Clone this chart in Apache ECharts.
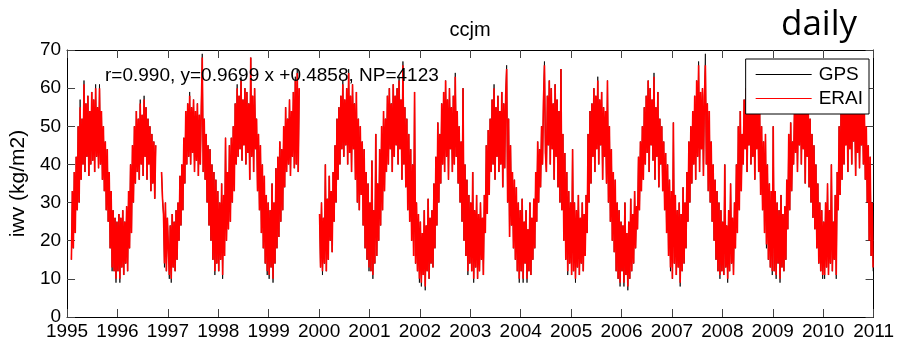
<!DOCTYPE html>
<html>
<head>
<meta charset="utf-8">
<script src="https://cdn.jsdelivr.net/npm/echarts@6/dist/echarts.min.js"></script>
<style>
html,body{margin:0;padding:0;background:#fff;}
#chart{width:897px;height:341px;}
</style>
</head>
<body>
<div id="chart"></div>
<script>
// Weekly samples (52 per year) read from the daily plot envelope; null = no data
const years = [1995,1996,1997,1998,1999,2000,2001,2002,2003,2004,2005,2006,2007,2008,2009,2010];
const weeksPerYear = 52;
const yTicks = [0,10,20,30,40,50,60,70];
const xTicks = [1995,1996,1997,1998,1999,2000,2001,2002,2003,2004,2005,2006,2007,2008,2009,2010,2011];

const statR = '0.990', statSlope = '0.9699', statIntercept = '0.4858', statNP = 4123;

const erai1995 = [null,null,null,null,15,33,18,38,22,42,28,50,30,55,36,52,40,61,38,56,42,58,37,54,40,59,41,57,38,60,42,55,39,60,40,54,36,50,33,46,28,44,25,38,18,33,13,28,12,26,10,25];
const erai1996 = [12,27,10,26,13,28,11,25,14,29,12,33,18,40,22,45,30,50,35,54,38,52,36,56,40,53,37,57,42,55,36,52,40,50,33,48,35,46,31,45,null,null,null,null,null,38,31,27,14,30,12,26];
const erai1997 = [26,11,24,10,27,13,25,12,28,15,30,20,37,24,40,28,47,35,54,40,56,42,58,40,55,43,57,38,54,41,56,37,53,40,55,68,38,52,36,48,30,45,24,44,20,40,15,38,12,36,14,33];
const erai1998 = [12,30,15,35,11,32,16,47,20,38,23,45,25,47,30,50,33,56,40,60,42,58,44,62,41,57,45,60,40,59,43,56,36,68,42,58,38,60,44,52,33,48,28,45,22,40,18,37,14,32,12,30];
const erai1999 = [11,28,13,35,10,30,14,39,18,42,21,46,25,44,28,50,34,55,38,52,40,57,37,54,42,59,39,62,40,64,38,60,null,null,null,null,null,null,null,null,null,null,null,null,null,null,null,null,null,null,null,null];
const erai2000 = [27,13,30,12,26,14,40,12,31,15,37,20,33,17,38,25,45,30,52,36,55,40,58,44,61,42,57,45,60,40,64,43,58,38,61,44,56,36,59,30,52,28,50,32,46,24,44,18,38,15,35,13];
const erai2001 = [30,12,41,11,28,14,48,16,35,20,44,24,50,28,54,33,52,38,58,40,60,44,56,38,61,42,58,45,60,40,62,44,57,36,66,40,55,34,52,28,48,25,44,20,40,16,59,14,30,12,27,10];
const erai2002 = [25,9,22,11,28,8,24,12,31,10,26,14,28,13,35,18,42,24,51,30,48,35,56,40,59,38,62,42,57,36,60,44,55,38,58,40,63,42,54,35,50,30,46,25,60,20,40,16,36,12,32,14];
const erai2003 = [30,12,38,10,28,13,32,10,27,12,30,15,26,11,32,22,45,27,49,32,52,38,57,40,60,36,55,42,58,38,54,40,59,34,56,39,58,65,30,52,21,45,24,38,18,36,15,34,12,30,10,28];
const erai2004 = [12,31,10,25,14,28,10,23,12,30,11,26,15,31,18,38,25,46,30,44,34,50,40,57,66,43,38,58,45,62,40,60,44,56,36,61,42,57,34,54,30,65,28,48,20,43,15,38,12,33,14,30];
const erai2005 = [11,44,12,30,10,28,13,32,11,26,14,30,12,27,16,32,22,48,30,54,35,56,42,60,38,58,44,62,40,57,45,59,36,55,42,54,35,62,30,50,25,44,20,38,17,36,12,30,10,28,9,25];
const erai2006 = [12,24,9,30,11,22,8,25,10,31,12,27,14,33,18,29,23,42,28,46,33,50,36,55,40,58,43,62,38,60,45,57,41,63,36,55,42,59,34,52,40,50,33,46,28,43,22,40,16,36,13,33];
const erai2007 = [10,51,14,32,11,28,13,30,9,27,12,34,14,30,18,38,25,46,30,50,35,54,40,58,36,62,42,66,38,59,44,60,37,58,66,40,56,33,54,30,46,25,40,20,36,15,33,12,30,11,28,12];
const erai2008 = [25,11,40,13,24,10,28,12,35,14,26,11,30,18,40,22,50,28,54,33,48,40,57,44,60,38,56,45,62,40,58,42,60,36,55,44,59,38,54,32,50,28,46,22,48,19,40,15,35,13,33,12];
const erai2009 = [50,12,33,11,30,14,28,10,32,13,27,12,29,15,36,23,48,28,51,33,46,40,56,43,60,38,58,45,62,40,57,44,60,35,56,42,58,34,52,30,48,26,45,23,40,18,35,14,30,12,28,11];
const erai2010 = [25,11,30,13,35,11,28,14,40,12,25,15,32,11,38,28,50,32,54,36,58,40,55,45,60,38,62,44,57,40,61,46,56,37,60,43,58,39,55,45,57,40,54,36,50,30,45,20,42,16,30,13];

const gps1995 = [null,null,null,null,15,33,18,38,22,42,28,50,30,57,36,52,40,62,38,56,42,58,37,54,40,59,41,57,38,61,42,55,39,61,40,54,36,50,33,46,28,44,25,38,18,33,12,28,12,26,9,25];
const gps1996 = [12,27,9,26,13,28,11,25,14,29,12,33,18,40,22,45,30,50,35,54,38,52,36,57,40,53,37,58,42,55,36,52,40,50,33,48,35,46,31,45,null,null,null,null,null,38,31,27,13,30,12,26];
const gps1997 = [26,10,24,9,27,13,25,12,28,15,30,20,37,24,40,28,47,35,54,40,56,42,59,40,55,43,57,38,54,41,56,37,53,40,55,69,38,52,36,48,30,45,24,44,20,40,15,38,11,36,14,33];
const gps1998 = [12,30,15,35,10,32,16,47,20,38,23,45,25,47,30,50,33,56,40,61,42,58,44,63,41,57,45,60,40,59,43,56,36,68,42,58,38,60,44,52,33,48,28,45,22,40,18,37,14,32,11,30];
const gps1999 = [10,28,13,35,9,30,14,39,18,42,21,46,25,44,28,50,34,55,38,52,40,57,37,54,42,59,39,63,40,65,38,60,null,null,null,null,null,null,null,null,null,null,null,null,null,null,null,null,null,null,null,null];
const gps2000 = [27,13,30,11,26,14,40,12,31,15,37,20,33,17,38,25,45,30,52,36,55,40,58,44,62,42,57,45,60,40,65,43,58,38,61,44,56,36,59,30,52,28,50,32,46,24,44,18,38,15,35,12];
const gps2001 = [30,12,41,10,28,14,48,16,35,20,44,24,50,28,54,33,52,38,58,40,60,44,56,38,61,42,58,45,60,40,63,44,57,36,67,40,55,34,52,28,48,25,44,20,40,16,59,14,30,12,27,9];
const gps2002 = [25,8,22,11,28,7,24,12,31,10,26,14,28,13,35,18,42,24,51,30,48,35,56,40,59,38,62,42,57,36,60,44,55,38,58,40,64,42,54,35,50,30,46,25,60,20,40,16,36,11,32,14];
const gps2003 = [30,12,38,9,28,13,32,10,27,12,30,15,26,11,32,22,45,27,49,32,52,38,57,40,61,36,55,42,58,38,54,40,59,34,56,39,58,66,30,52,21,45,24,38,18,36,15,34,12,30,9,28];
const gps2004 = [12,31,9,25,14,28,9,23,12,30,11,26,15,31,18,38,25,46,30,44,34,50,40,57,67,43,38,58,45,62,40,60,44,56,36,61,42,57,34,54,30,65,28,48,20,43,15,38,11,33,14,30];
const gps2005 = [11,44,12,30,9,28,13,32,11,26,14,30,12,27,16,32,22,48,30,54,35,56,42,60,38,58,44,63,40,57,45,59,36,55,42,54,35,62,30,50,25,44,20,38,17,36,12,30,10,28,8,25];
const gps2006 = [12,24,8,30,11,22,7,25,10,31,12,27,14,33,18,29,23,42,28,46,33,50,36,55,40,58,43,62,38,60,45,57,41,64,36,55,42,59,34,52,40,50,33,46,28,43,22,40,16,36,12,33];
const gps2007 = [10,51,14,32,11,28,13,30,8,27,12,34,14,30,18,38,25,46,30,50,35,54,40,58,36,62,42,67,38,59,44,60,37,58,69,40,56,33,54,30,46,25,40,20,36,15,33,12,30,10,28,12];
const gps2008 = [25,11,40,13,24,9,28,12,35,14,26,11,30,18,40,22,50,28,54,33,48,40,57,44,60,38,56,45,63,40,58,42,60,36,55,44,59,38,54,32,50,28,46,22,48,18,40,15,35,13,33,11];
const gps2009 = [50,12,33,10,30,14,28,9,32,13,27,12,29,15,36,23,48,28,51,33,46,40,56,43,60,38,58,45,63,40,57,44,60,35,56,42,58,34,52,30,48,26,45,23,40,18,35,14,30,12,28,10];
const gps2010 = [25,10,30,13,35,11,28,14,40,12,25,15,32,10,38,28,50,32,54,36,58,40,55,45,60,38,63,44,57,40,61,46,56,37,60,43,58,39,55,45,57,40,54,36,50,30,45,20,42,16,30,12];

const eraiYears = [erai1995,erai1996,erai1997,erai1998,erai1999,erai2000,erai2001,erai2002,erai2003,erai2004,erai2005,erai2006,erai2007,erai2008,erai2009,erai2010];
const gpsYears = [gps1995,gps1996,gps1997,gps1998,gps1999,gps2000,gps2001,gps2002,gps2003,gps2004,gps2005,gps2006,gps2007,gps2008,gps2009,gps2010];

function toSeries(byYear) {
  const out = [];
  byYear.forEach((arr, yi) => {
    arr.forEach((v, w) => {
      out.push([years[yi] + (w + 0.5) / weeksPerYear, v === null ? '-' : v]);
    });
  });
  return out;
}

const FONT = 'Liberation Sans, Arial, sans-serif';
const chart = echarts.init(document.getElementById('chart'), null, {renderer: 'canvas'});
const xMin = xTicks[0], xMax = xTicks[xTicks.length - 1];
const yMin = yTicks[0], yMax = yTicks[yTicks.length - 1];

const axisX = (pos, showLabel) => ({
  type: 'value', position: pos, min: xMin, max: xMax, interval: 1,
  axisLine: {show: true, onZero: false, lineStyle: {color: '#000', width: 1}},
  axisTick: {show: true, inside: true, length: 8, lineStyle: {color: '#444'}},
  axisLabel: {show: showLabel, fontSize: 19, color: '#000', fontFamily: FONT, margin: 5, formatter: v => String(v)},
  splitLine: {show: false}
});
const axisY = (pos, showLabel) => ({
  type: 'value', position: pos, min: yMin, max: yMax, interval: 10,
  name: showLabel ? 'iwv (kg/m2)' : '', nameLocation: 'middle', nameGap: 34,
  nameTextStyle: {fontSize: 21, color: '#000', fontFamily: FONT},
  axisLine: {show: true, onZero: false, lineStyle: {color: '#000', width: 1}},
  axisTick: {show: true, inside: true, length: 8, lineStyle: {color: '#444'}},
  axisLabel: {show: showLabel, fontSize: 19, color: '#000', fontFamily: FONT, margin: 6},
  splitLine: {show: false}
});

chart.setOption({
  animation: false,
  backgroundColor: '#fff',
  grid: {left: 66, right: 20, top: 50, bottom: 24, containLabel: false},
  xAxis: [axisX('bottom', true), axisX('top', false)],
  yAxis: [axisY('left', true), axisY('right', false)],
  legend: {
    orient: 'vertical', right: 28, top: 59,
    data: [{name: 'GPS', icon: 'rect'}, {name: 'ERAI', icon: 'rect'}],
    backgroundColor: '#fff', borderColor: '#000', borderWidth: 1,
    padding: [6, 6, 6, 10], itemGap: 5, itemWidth: 56, itemHeight: 1,
    textStyle: {fontSize: 19, color: '#000', fontFamily: FONT, padding: [0, 0, 0, 2], lineHeight: 19},
    z: 10
  },
  graphic: [
    {type: 'text', x: 470, y: 30, z: 20,
     style: {text: 'ccjm', fontSize: 20, fontFamily: FONT, fill: '#000', align: 'center', verticalAlign: 'middle'}},
    {type: 'text', x: 781, y: 25, z: 20,
     style: {text: 'daily', fontSize: 35, fontFamily: 'Open Sans', fill: '#000', align: 'left', verticalAlign: 'middle'}},
    {type: 'text', x: 105, y: 76, z: 20,
     style: {text: 'r=' + statR + ', y=' + statSlope + ' x +' + statIntercept + ', NP=' + statNP,
             fontSize: 19, fontFamily: FONT, fill: '#000', align: 'left', verticalAlign: 'middle'}}
  ],
  series: [
    {name: 'GPS', type: 'line', xAxisIndex: 0, yAxisIndex: 0, data: toSeries(gpsYears),
     symbol: 'none', showSymbol: false, connectNulls: false,
     lineStyle: {color: '#000', width: 0.8}, itemStyle: {color: '#000'}},
    {name: 'ERAI', type: 'line', xAxisIndex: 0, yAxisIndex: 0, data: toSeries(eraiYears),
     symbol: 'none', showSymbol: false, connectNulls: false,
     lineStyle: {color: '#ff0000', width: 1.6}, itemStyle: {color: '#ff0000'}}
  ]
});
</script>
</body>
</html>
